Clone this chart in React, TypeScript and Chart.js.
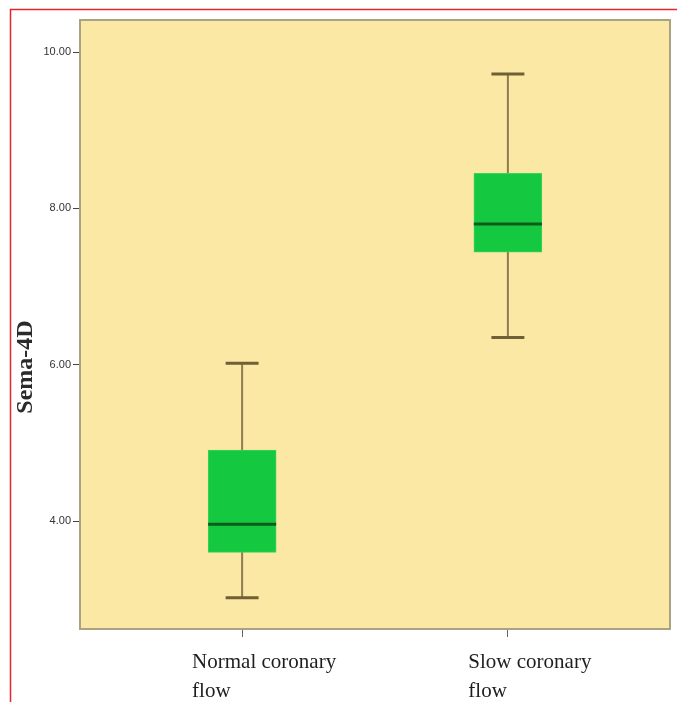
import React, { useEffect, useRef } from "react";
import { Chart, registerables } from "chart.js";

Chart.register(...registerables);

// ---- data ----
const categories = ["Normal coronary flow", "Slow coronary flow"];
const categoryLines = [
  ["Normal coronary", "flow"],
  ["Slow coronary", "flow"],
];
const whiskerMin = [3.02, 6.35];
const q1 = [3.6, 7.44];
const median = [3.96, 7.8];
const q3 = [4.91, 8.45];
const whiskerMax = [6.02, 9.72];
const yTicks = [4, 6, 8, 10];
const yTitle = "Sema-4D";

const BOX_HALF = 0.128;
const CAP_HALF = 0.062;

const deco = {
  id: "deco",
  beforeDraw(chart: any) {
    const { ctx, chartArea: a } = chart;
    ctx.save();
    ctx.fillStyle = "#fce8a5";
    ctx.fillRect(a.left, a.top, a.right - a.left, a.bottom - a.top);
    ctx.restore();
  },
  afterDraw(chart: any) {
    const { ctx, chartArea: a } = chart;
    ctx.save();
    // plot frame
    ctx.strokeStyle = "#a9a283";
    ctx.lineWidth = 2;
    ctx.strokeRect(a.left, a.top, a.right - a.left, a.bottom - a.top);

    // x category labels
    const xs = chart.scales.x;
    ctx.fillStyle = "#1e1e1e";
    ctx.font = '21px "Liberation Serif", "Times New Roman", serif';
    ctx.textBaseline = "middle";
    ctx.textAlign = "left";
    categoryLines.forEach((lines, i) => {
      const px = xs.getPixelForValue(i);
      const w = ctx.measureText(lines[0]).width;
      const left = px + 22 - w / 2;
      lines.forEach((ln, j) => {
        ctx.fillText(ln, left, 662 + j * 29);
      });
    });

    // y title
    ctx.translate(26, 367);
    ctx.rotate(-Math.PI / 2);
    ctx.textAlign = "center";
    ctx.font = 'bold 24px "Liberation Serif", "Times New Roman", serif';
    ctx.fillStyle = "#2a2a2a";
    ctx.fillText(yTitle, 0, 0);
    ctx.restore();

    // outer red frame
    ctx.save();
    ctx.strokeStyle = "#e5252b";
    ctx.lineWidth = 1.5;
    ctx.beginPath();
    ctx.moveTo(10.5, 702);
    ctx.lineTo(10.5, 9.5);
    ctx.lineTo(677, 9.5);
    ctx.stroke();
    ctx.restore();
  },
};

export default function App() {
  const ref = useRef<HTMLCanvasElement | null>(null);

  useEffect(() => {
    if (!ref.current) return;
    const datasets: any[] = [];
    categories.forEach((_, i) => {
      datasets.push({
        type: "line",
        data: [
          { x: i - BOX_HALF, y: median[i] },
          { x: i + BOX_HALF, y: median[i] },
        ],
        borderColor: "#0b5c1b",
        borderWidth: 3,
        pointRadius: 0,
        order: 0,
      });
      [whiskerMin[i], whiskerMax[i]].forEach((v) => {
        datasets.push({
          type: "line",
          data: [
            { x: i - CAP_HALF, y: v },
            { x: i + CAP_HALF, y: v },
          ],
          borderColor: "#6f5f35",
          borderWidth: 3,
          pointRadius: 0,
          order: 1,
        });
      });
      datasets.push({
        type: "line",
        data: [
          { x: i, y: whiskerMin[i] },
          { x: i, y: whiskerMax[i] },
        ],
        borderColor: "#8c7c4f",
        borderWidth: 2,
        pointRadius: 0,
        order: 3,
      });
    });
    datasets.push({
      type: "bar",
      data: categories.map((_, i) => ({ x: i, y: [q1[i], q3[i]] })),
      backgroundColor: "#14c840",
      borderColor: "#3ad45c",
      borderWidth: 1,
      borderSkipped: false,
      barThickness: 68,
      grouped: false,
      order: 2,
    });

    const chart = new Chart(ref.current, {
      type: "bar",
      data: { datasets },
      plugins: [deco],
      options: {
        animation: false,
        responsive: false,
        devicePixelRatio: 1,
        layout: { padding: { left: 0, right: 7, top: 20, bottom: 0 } },
        plugins: {
          legend: { display: false },
          tooltip: { enabled: false },
        },
        scales: {
          x: {
            type: "linear",
            min: -0.61,
            max: 1.61,
            offset: false,
            afterBuildTicks: (s: any) => {
              s.ticks = categories.map((_, i) => ({ value: i }));
            },
            afterFit: (s: any) => {
              s.height = 73;
            },
            ticks: { callback: () => "" },
            grid: {
              offset: false,
              drawOnChartArea: false,
              tickLength: 8,
              color: "#666",
            },
            border: { color: "#a9a283", width: 2 },
          },
          y: {
            type: "linear",
            min: 2.62,
            max: 10.41,
            beginAtZero: false,
            afterBuildTicks: (s: any) => {
              s.ticks = yTicks.map((v) => ({ value: v }));
            },
            afterFit: (s: any) => {
              s.width = 80;
            },
            ticks: {
              callback: (v: any) => Number(v).toFixed(2),
              font: { family: '"Liberation Sans", Arial, sans-serif', size: 11 },
              color: "#333",
              padding: 2,
            },
            grid: {
              drawOnChartArea: false,
              tickLength: 7,
              color: "#444",
            },
            border: { color: "#a9a283", width: 2 },
          },
        },
      } as any,
    });
    return () => chart.destroy();
  }, []);

  return (
    <div style={{ position: "fixed", left: 0, top: 0, width: 677, height: 702, background: "#fff" }}>
      <canvas ref={ref} width={677} height={702} />
    </div>
  );
}
